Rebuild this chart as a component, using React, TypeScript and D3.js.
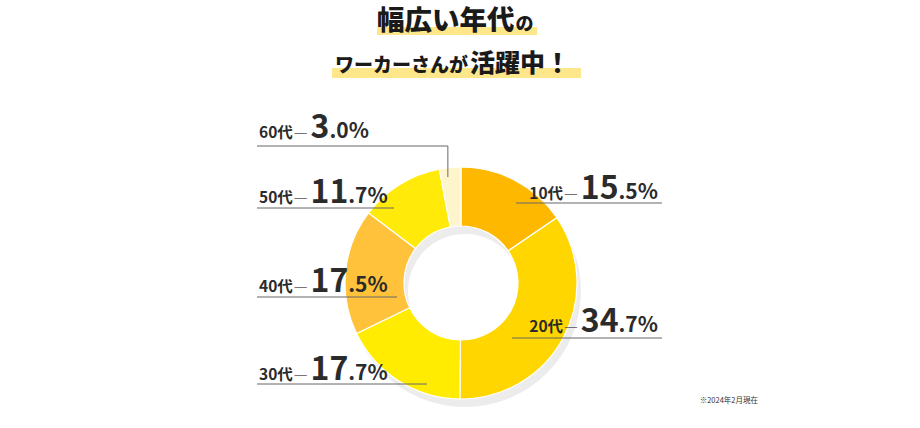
import { useMemo } from 'react';
import * as d3 from 'd3';

const categories = ['10代', '20代', '30代', '40代', '50代', '60代'];
const shares = [15.5, 34.7, 17.7, 17.5, 11.7, 3.0];
const sliceColors = ['#FFB800', '#FFD600', '#FFEC00', '#FFC23A', '#FFEA0A', '#FFF5CC'];
const titleLine1 = ['幅広い年代', 'の'];
const titleLine2 = ['ワーカーさんが', '活躍中！'];
const footnote = '※2024年2月現在';

// label layout: side, baseline of text, line y, inner end of leader line
const LABELS = [
  { side: 'right', textY: 199, lineY: 203, innerX: 516 },
  { side: 'right', textY: 332, lineY: 338, innerX: 512 },
  { side: 'left', textY: 380, lineY: 384, innerX: 427 },
  { side: 'left', textY: 292, lineY: 297, innerX: 397 },
  { side: 'left', textY: 203, lineY: 208, innerX: 394 },
  { side: 'left', textY: 138, lineY: 146, innerX: 448 },
];

const W = 920;
const H = 428;
const CX = 461;
const CY = 283;
const R_OUT = 116;
const R_IN = 57;
const LEFT_X = 257;
const RIGHT_X = 662;
const FONT = '"Noto Sans CJK JP", "Noto Sans", sans-serif';
const INK = '#2b2b2b';

export default function App() {
  const arcs = useMemo(() => {
    const pie = d3.pie<number>().sort(null).value((d) => d);
    const arc = d3.arc<d3.PieArcDatum<number>>().innerRadius(R_IN).outerRadius(R_OUT);
    return pie(shares).map((p) => ({
      path: arc(p) ?? '',
      centroid: arc.centroid(p),
    }));
  }, []);

  const ring = d3.arc()({ innerRadius: R_IN, outerRadius: R_OUT, startAngle: 0, endAngle: Math.PI * 2 }) ?? '';

  return (
    <div style={{ position: 'absolute', left: 0, top: 0 }}>
      <svg width={W} height={H} style={{ display: 'block', fontFamily: FONT }}>
        <rect width={W} height={H} fill="#fff" />

        {/* title */}
        <rect x={377} y={27} width={160} height={8} fill="#FDE78A" />
        <rect x={332} y={68} width={249} height={10} fill="#FDE78A" />
        <text x={377} y={30} fill="#1a1a1a" fontWeight={900}>
          <tspan fontSize={27.5}>{titleLine1[0]}</tspan>
          <tspan fontSize={18} dx={1}>{titleLine1[1]}</tspan>
        </text>
        <text x={335} y={72} fill="#1a1a1a" fontWeight={900}>
          <tspan fontSize={19}>{titleLine2[0]}</tspan>
          <tspan fontSize={25} dx={2}>{titleLine2[1]}</tspan>
        </text>

        {/* donut */}
        <g transform={`translate(${CX + 4}, ${CY + 8})`}>
          <path d={ring} fill="#ececec" />
        </g>
        <g transform={`translate(${CX}, ${CY})`}>
          {arcs.map((a, i) => (
            <path key={i} d={a.path} fill={sliceColors[i]} stroke="#fff" strokeWidth={1.2} />
          ))}
        </g>

        {/* labels */}
        {categories.map((c, i) => {
          const l = LABELS[i];
          const [whole, frac] = shares[i].toFixed(1).split('.');
          const isRight = l.side === 'right';
          const cen = arcs[i].centroid;
          const x1 = isRight ? RIGHT_X : LEFT_X;
          return (
            <g key={c}>
              {i === 5 ? (
                <polyline
                  points={`${LEFT_X},${l.lineY} ${CX + cen[0] - 5},${l.lineY} ${CX + cen[0] - 5},${CY - R_OUT + 10}`}
                  fill="none"
                  stroke="#666"
                  strokeWidth={1}
                />
              ) : (
                <line x1={x1} x2={l.innerX} y1={l.lineY} y2={l.lineY} stroke="#666" strokeWidth={1} />
              )}
              <text
                x={isRight ? RIGHT_X - 4 : LEFT_X + 2}
                y={l.textY}
                textAnchor={isRight ? 'end' : 'start'}
                fill={INK}
                fontWeight={700}
              >
                <tspan fontSize={15.5}>{c}</tspan>
                <tspan fontSize={15.5} fontWeight={300} fill="#555" dx={1}>—</tspan>
                <tspan fontSize={32} dx={3}>{whole}</tspan>
                <tspan fontSize={21}>{`.${frac}%`}</tspan>
              </text>
            </g>
          );
        })}

        <text x={758} y={403} textAnchor="end" fontSize={7.5} fill="#333">
          {footnote}
        </text>
      </svg>
    </div>
  );
}
